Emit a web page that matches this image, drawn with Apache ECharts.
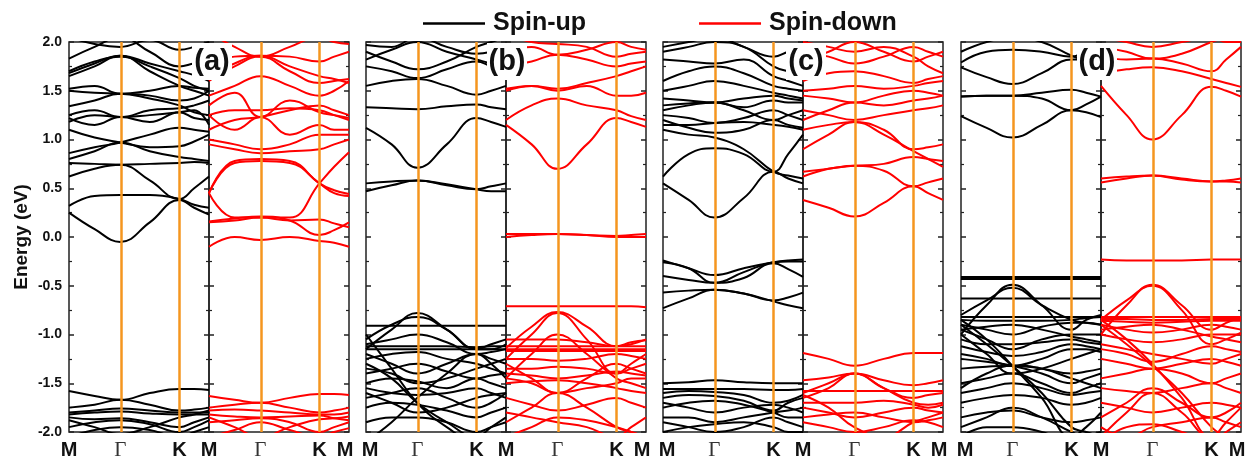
<!DOCTYPE html>
<html><head><meta charset="utf-8">
<script src="https://cdn.jsdelivr.net/npm/echarts@6/dist/echarts.min.js"></script>
<style>html,body{margin:0;padding:0;background:#fff}#c{width:1254px;height:467px}</style>
</head><body><div id="c"></div>
<script>
// k-path sample positions (fraction of M-Γ-K-M path length)
const kPath = [0, 0.183, 0.366, 0.577, 0.789, 0.894, 1.0];
const kTicks = [0, 0.366, 0.789, 1.0];
const kTickLabels = ['M', 'Γ', 'K', 'M'];
const highSymK = [0.366, 0.789];
const energyTicks = [-2, 2, 0.5];
const panelLabels = ['(a)', '(b)', '(c)', '(d)'];
const seriesNames = ['Spin-up', 'Spin-down'];

// band energies (eV) at kPath points
const aUp = [
  [0.25, 0.08, -0.05, 0.15, 0.38, 0.30, 0.23],
  [0.32, 0.42, 0.43, 0.43, 0.39, 0.33, 0.30],
  [0.62, 0.70, 0.74, 0.58, 0.39, 0.50, 0.62],
  [0.76, 0.75, 0.74, 0.75, 0.76, 0.77, 0.76],
  [0.80, 0.88, 0.97, 0.88, 0.82, 0.80, 0.78],
  [1.10, 1.02, 0.97, 0.92, 0.93, 0.98, 1.05],
  [0.86, 0.92, 0.97, 1.05, 1.12, 1.10, 1.08],
  [1.22, 1.15, 1.23, 1.18, 1.28, 1.22, 1.20],
  [1.25, 1.30, 1.23, 1.25, 1.28, 1.30, 1.15],
  [1.18, 1.25, 1.23, 1.30, 1.32, 1.35, 1.40],
  [1.34, 1.40, 1.47, 1.42, 1.35, 1.28, 1.25],
  [1.50, 1.48, 1.47, 1.45, 1.40, 1.42, 1.50],
  [1.52, 1.55, 1.47, 1.50, 1.55, 1.53, 1.52],
  [1.65, 1.75, 1.86, 1.70, 1.55, 1.50, 1.45],
  [1.68, 1.78, 1.86, 1.78, 1.70, 1.66, 1.60],
  [1.70, 1.80, 1.85, 1.75, 1.63, 1.55, 1.50],
  [1.83, 1.95, 2.05, 1.90, 1.75, 1.78, 1.80],
  [2.05, 1.98, 1.95, 2.02, 1.92, 1.95, 2.00],
  [-1.58, -1.63, -1.67, -1.60, -1.56, -1.56, -1.57],
  [-1.75, -1.72, -1.67, -1.72, -1.78, -1.77, -1.75],
  [-1.80, -1.78, -1.76, -1.78, -1.80, -1.80, -1.80],
  [-1.82, -1.80, -1.79, -1.81, -1.82, -1.82, -1.82],
  [-1.85, -1.87, -1.86, -1.90, -1.95, -1.90, -1.85],
  [-1.88, -1.95, -2.02, -1.95, -1.85, -1.82, -1.78],
  [-1.95, -1.90, -1.88, -1.92, -2.00, -1.95, -1.88],
  [-2.05, -1.98, -1.95, -1.98, -2.05, -2.00, -1.95]
];
const aDown = [
  [-0.10, 0.00, -0.03, 0.00, -0.04, -0.06, -0.10],
  [0.16, 0.19, 0.21, 0.17, 0.02, 0.07, 0.15],
  [0.15, 0.17, 0.20, 0.17, 0.18, 0.14, 0.10],
  [0.45, 0.78, 0.80, 0.78, 0.55, 0.48, 0.44],
  [0.45, 0.76, 0.78, 0.76, 0.55, 0.45, 0.42],
  [0.45, 0.20, 0.20, 0.20, 0.55, 0.72, 0.87],
  [0.95, 0.90, 0.86, 0.88, 0.90, 0.95, 1.00],
  [1.00, 0.95, 0.90, 0.95, 1.05, 1.05, 1.05],
  [1.25, 1.10, 1.23, 1.05, 1.15, 1.10, 1.10],
  [1.10, 1.20, 1.23, 1.30, 1.35, 1.30, 1.25],
  [1.35, 1.48, 1.23, 1.40, 1.28, 1.25, 1.22],
  [1.25, 1.30, 1.30, 1.32, 1.30, 1.25, 1.20],
  [1.45, 1.55, 1.65, 1.55, 1.45, 1.50, 1.60],
  [1.60, 1.75, 1.85, 1.70, 1.58, 1.60, 1.62],
  [1.65, 1.78, 1.86, 1.75, 1.65, 1.62, 1.58],
  [1.75, 1.85, 1.86, 1.85, 1.80, 1.85, 1.90],
  [2.10, 1.95, 1.85, 1.95, 2.05, 2.00, 1.98],
  [-1.63, -1.67, -1.70, -1.65, -1.61, -1.61, -1.62],
  [-1.75, -1.72, -1.70, -1.75, -1.80, -1.78, -1.75],
  [-1.78, -1.77, -1.78, -1.80, -1.82, -1.82, -1.80],
  [-1.82, -1.84, -1.85, -1.84, -1.83, -1.86, -1.88],
  [-1.85, -1.95, -2.05, -1.95, -1.87, -1.86, -1.84],
  [-1.90, -1.88, -1.86, -1.90, -2.00, -1.95, -1.90],
  [-2.05, -1.98, -1.90, -1.98, -2.05, -2.00, -1.96]
];
const bUp = [
  [0.47, 0.53, 0.58, 0.53, 0.49, 0.52, 0.55],
  [0.55, 0.57, 0.58, 0.54, 0.49, 0.47, 0.47],
  [1.12, 0.95, 0.71, 0.95, 1.22, 1.18, 1.13],
  [1.33, 1.32, 1.31, 1.34, 1.36, 1.33, 1.31],
  [1.55, 1.60, 1.62, 1.55, 1.46, 1.50, 1.55],
  [1.75, 1.70, 1.63, 1.72, 1.80, 1.75, 1.70],
  [1.82, 1.92, 2.00, 1.90, 1.82, 1.78, 1.75],
  [1.90, 1.80, 1.72, 1.80, 1.95, 2.00, 2.05],
  [1.97, 1.95, 2.05, 1.95, 1.88, 1.90, 1.95],
  [-1.15, -0.95, -0.78, -0.95, -1.15, -1.10, -1.05],
  [-0.91, -0.91, -0.91, -0.91, -0.91, -0.91, -0.91],
  [-1.05, -0.90, -0.82, -0.95, -1.15, -1.15, -1.10],
  [-1.12, -1.12, -1.12, -1.12, -1.13, -1.12, -1.12],
  [-1.15, -1.15, -1.15, -1.15, -1.15, -1.15, -1.15],
  [-1.20, -1.30, -1.40, -1.30, -1.20, -1.25, -1.30],
  [-1.25, -1.20, -1.18, -1.25, -1.30, -1.35, -1.40],
  [-1.35, -1.40, -1.50, -1.45, -1.35, -1.30, -1.25],
  [-1.50, -1.45, -1.48, -1.55, -1.45, -1.50, -1.55],
  [-1.55, -1.60, -1.62, -1.60, -1.55, -1.60, -1.65],
  [-1.65, -1.60, -1.55, -1.65, -1.75, -1.70, -1.60],
  [-1.75, -1.70, -1.72, -1.78, -1.85, -1.80, -1.75],
  [-1.00, -1.35, -1.70, -1.95, -2.10, -2.10, -2.10],
  [-2.10, -1.90, -1.65, -1.40, -1.20, -1.30, -1.45],
  [-1.90, -1.85, -1.85, -1.90, -2.00, -1.95, -1.90],
  [-1.30, -1.45, -1.70, -1.90, -2.05, -1.95, -1.85],
  [-1.10, -1.05, -1.00, -1.08, -1.20, -1.18, -1.15],
  [-1.40, -1.35, -1.30, -1.38, -1.45, -1.42, -1.40],
  [-1.60, -1.70, -1.80, -1.75, -1.65, -1.62, -1.60]
];
const bDown = [
  [0.00, 0.02, 0.03, 0.02, 0.00, 0.00, 0.00],
  [0.03, 0.03, 0.03, 0.02, 0.01, 0.02, 0.03],
  [1.15, 0.95, 0.70, 0.95, 1.22, 1.18, 1.13],
  [1.20, 1.35, 1.42, 1.35, 1.30, 1.24, 1.20],
  [1.52, 1.55, 1.52, 1.58, 1.65, 1.70, 1.75],
  [1.50, 1.55, 1.50, 1.55, 1.45, 1.45, 1.48],
  [1.75, 1.80, 1.87, 1.82, 1.75, 1.78, 1.80],
  [1.90, 1.95, 1.87, 1.92, 2.00, 1.95, 1.92],
  [2.10, 2.00, 1.98, 1.95, 1.85, 1.88, 1.90],
  [-0.71, -0.71, -0.71, -0.71, -0.71, -0.71, -0.72],
  [-1.14, -0.92, -0.77, -0.92, -1.12, -1.08, -1.06],
  [-1.25, -1.00, -0.78, -1.05, -1.40, -1.30, -1.20],
  [-1.12, -1.12, -1.12, -1.12, -1.12, -1.12, -1.12],
  [-1.15, -1.15, -1.15, -1.15, -1.15, -1.15, -1.15],
  [-1.17, -1.17, -1.17, -1.17, -1.17, -1.17, -1.17],
  [-1.45, -1.20, -1.00, -1.20, -1.45, -1.50, -1.55],
  [-1.30, -1.45, -1.60, -1.45, -1.30, -1.35, -1.40],
  [-1.90, -1.75, -1.60, -1.75, -1.95, -2.00, -2.05],
  [-1.45, -1.50, -1.60, -1.55, -1.50, -1.45, -1.45],
  [-1.50, -1.48, -1.47, -1.50, -1.55, -1.58, -1.60],
  [-1.35, -1.35, -1.33, -1.35, -1.40, -1.35, -1.30],
  [-1.65, -1.72, -1.78, -1.72, -1.65, -1.70, -1.75],
  [-1.80, -1.85, -1.90, -1.95, -2.05, -1.95, -1.85],
  [-2.05, -1.95, -1.85, -1.88, -1.95, -2.00, -2.05],
  [-1.25, -1.25, -1.27, -1.25, -1.20, -1.22, -1.25],
  [-1.05, -1.05, -1.05, -1.08, -1.12, -1.10, -1.05],
  [-1.40, -1.42, -1.45, -1.42, -1.38, -1.40, -1.42]
];
const cUp = [
  [0.55, 0.38, 0.20, 0.40, 0.67, 0.60, 0.55],
  [0.62, 0.85, 0.91, 0.85, 0.67, 0.85, 1.05],
  [1.10, 1.05, 1.02, 0.90, 0.67, 0.63, 0.60],
  [1.20, 1.12, 1.07, 1.10, 1.20, 1.15, 1.12],
  [1.15, 1.15, 1.17, 1.18, 1.15, 1.13, 1.10],
  [1.25, 1.22, 1.17, 1.22, 1.30, 1.25, 1.20],
  [1.30, 1.35, 1.38, 1.33, 1.40, 1.38, 1.38],
  [1.42, 1.40, 1.38, 1.42, 1.45, 1.42, 1.40],
  [1.35, 1.37, 1.38, 1.30, 1.20, 1.25, 1.30],
  [1.50, 1.55, 1.60, 1.55, 1.48, 1.45, 1.42],
  [1.60, 1.70, 1.75, 1.68, 1.55, 1.52, 1.50],
  [1.82, 1.80, 1.78, 1.82, 1.65, 1.60, 1.55],
  [1.95, 2.00, 2.05, 1.95, 1.85, 1.90, 1.95],
  [1.90, 1.95, 2.00, 1.95, 1.75, 1.70, 1.68],
  [-0.24, -0.32, -0.39, -0.32, -0.26, -0.24, -0.23],
  [-0.26, -0.32, -0.47, -0.36, -0.26, -0.25, -0.25],
  [-0.40, -0.44, -0.47, -0.42, -0.27, -0.33, -0.41],
  [-0.57, -0.55, -0.54, -0.58, -0.65, -0.62, -0.57],
  [-0.73, -0.63, -0.54, -0.58, -0.66, -0.70, -0.73],
  [-1.50, -1.49, -1.47, -1.49, -1.50, -1.50, -1.50],
  [-1.56, -1.56, -1.56, -1.56, -1.57, -1.57, -1.56],
  [-1.60, -1.58, -1.59, -1.62, -1.70, -1.68, -1.62],
  [-1.65, -1.62, -1.63, -1.68, -1.78, -1.70, -1.65],
  [-1.70, -1.75, -1.80, -1.75, -1.72, -1.75, -1.80],
  [-1.75, -1.70, -1.68, -1.72, -1.80, -1.85, -1.85],
  [-1.85, -1.85, -1.90, -1.85, -1.80, -1.78, -1.75],
  [-1.90, -1.95, -2.00, -1.95, -1.85, -1.90, -1.95],
  [-2.00, -1.95, -1.92, -1.90, -1.95, -2.00, -2.00]
];
const cDown = [
  [0.38, 0.30, 0.21, 0.35, 0.52, 0.45, 0.38],
  [0.67, 0.70, 0.73, 0.68, 0.52, 0.56, 0.60],
  [0.62, 0.70, 0.73, 0.75, 0.82, 0.80, 0.78],
  [0.90, 1.05, 1.18, 1.05, 0.88, 0.80, 0.72],
  [1.10, 1.15, 1.18, 1.10, 0.90, 0.92, 0.95],
  [1.30, 1.25, 1.20, 1.25, 1.30, 1.32, 1.35],
  [1.20, 1.30, 1.38, 1.35, 1.40, 1.42, 1.45],
  [1.45, 1.42, 1.38, 1.45, 1.50, 1.48, 1.45],
  [1.50, 1.52, 1.55, 1.52, 1.55, 1.58, 1.60],
  [1.60, 1.68, 1.70, 1.65, 1.58, 1.62, 1.65],
  [1.80, 1.90, 2.00, 1.90, 1.80, 1.85, 1.90],
  [1.90, 1.85, 1.78, 1.85, 1.95, 1.90, 1.85],
  [2.00, 1.95, 1.90, 1.95, 1.85, 1.75, 1.68],
  [-1.19, -1.25, -1.32, -1.25, -1.19, -1.19, -1.19],
  [-1.47, -1.44, -1.40, -1.47, -1.52, -1.50, -1.47],
  [-1.58, -1.58, -1.58, -1.58, -1.58, -1.58, -1.58],
  [-1.60, -1.50, -1.40, -1.55, -1.65, -1.62, -1.60],
  [-1.65, -1.55, -1.40, -1.55, -1.70, -1.72, -1.70],
  [-1.70, -1.70, -1.70, -1.68, -1.72, -1.75, -1.72],
  [-1.75, -1.80, -1.85, -1.80, -1.75, -1.78, -1.80],
  [-1.85, -1.82, -1.80, -1.85, -1.90, -1.88, -1.85],
  [-1.90, -1.95, -2.00, -1.95, -1.88, -1.90, -1.95],
  [-1.62, -1.75, -1.95, -2.05, -1.90, -1.85, -1.80]
];
const dUp = [
  [1.24, 1.12, 1.02, 1.15, 1.30, 1.28, 1.23],
  [1.44, 1.45, 1.45, 1.42, 1.30, 1.36, 1.44],
  [1.44, 1.45, 1.45, 1.48, 1.51, 1.48, 1.44],
  [1.74, 1.64, 1.57, 1.68, 1.82, 1.82, 1.82],
  [1.79, 1.90, 1.92, 1.90, 1.85, 1.90, 1.95],
  [1.90, 2.00, 2.05, 2.00, 1.86, 1.80, 1.75],
  [-0.41, -0.41, -0.41, -0.41, -0.41, -0.41, -0.41],
  [-0.43, -0.43, -0.43, -0.43, -0.43, -0.43, -0.43],
  [-1.00, -0.70, -0.49, -0.70, -0.95, -0.85, -0.80],
  [-0.63, -0.63, -0.63, -0.63, -0.63, -0.63, -0.63],
  [-0.80, -0.65, -0.52, -0.70, -0.85, -0.88, -0.90],
  [-0.82, -0.82, -0.82, -0.82, -0.82, -0.82, -0.82],
  [-0.85, -0.86, -0.86, -0.86, -0.85, -0.83, -0.82],
  [-0.90, -0.95, -1.00, -0.92, -0.88, -0.88, -0.90],
  [-0.95, -1.05, -1.15, -1.05, -1.00, -1.00, -1.00],
  [-1.05, -1.10, -1.10, -1.08, -1.05, -1.08, -1.10],
  [-1.20, -1.25, -1.32, -1.25, -1.15, -1.15, -1.18],
  [-1.35, -1.33, -1.32, -1.35, -1.40, -1.38, -1.35],
  [-0.90, -1.10, -1.32, -1.60, -1.95, -2.00, -2.05],
  [-0.85, -1.05, -1.32, -1.65, -2.05, -1.95, -1.80],
  [-1.50, -1.45, -1.40, -1.50, -1.60, -1.55, -1.50],
  [-1.70, -1.65, -1.62, -1.65, -1.72, -1.70, -1.65],
  [-1.85, -1.80, -1.78, -1.85, -1.90, -1.88, -1.85],
  [-2.05, -1.95, -1.95, -2.00, -2.10, -2.05, -2.00],
  [-1.55, -1.40, -1.32, -1.35, -1.45, -1.50, -1.55],
  [-0.95, -0.92, -0.90, -0.95, -1.02, -1.05, -1.08],
  [-1.12, -1.18, -1.22, -1.18, -1.10, -1.12, -1.15],
  [-1.25, -1.28, -1.32, -1.40, -1.50, -1.45, -1.40],
  [-1.60, -1.55, -1.50, -1.55, -1.62, -1.60, -1.58],
  [-1.95, -1.85, -1.75, -1.85, -2.00, -2.05, -2.05],
  [-1.00, -1.20, -1.40, -1.35, -1.25, -1.20, -1.15]
];
const dDown = [
  [0.56, 0.60, 0.63, 0.60, 0.57, 0.57, 0.56],
  [0.60, 0.62, 0.63, 0.59, 0.57, 0.58, 0.60],
  [1.55, 1.25, 1.00, 1.25, 1.54, 1.50, 1.44],
  [1.68, 1.72, 1.74, 1.70, 1.62, 1.58, 1.54],
  [1.85, 1.82, 1.83, 1.78, 1.70, 1.82, 1.95],
  [1.95, 1.90, 1.83, 1.88, 2.00, 2.05, 2.10],
  [2.05, 2.00, 1.95, 2.00, 2.05, 2.00, 2.00],
  [-0.23, -0.24, -0.24, -0.24, -0.23, -0.23, -0.23],
  [-1.00, -0.70, -0.49, -0.70, -0.95, -0.88, -0.82],
  [-0.85, -0.65, -0.50, -0.75, -1.10, -1.05, -0.98],
  [-0.82, -0.82, -0.82, -0.82, -0.82, -0.82, -0.82],
  [-0.84, -0.84, -0.85, -0.85, -0.84, -0.84, -0.84],
  [-0.86, -0.87, -0.88, -0.87, -0.86, -0.86, -0.86],
  [-0.90, -0.95, -0.98, -0.95, -0.90, -0.92, -0.95],
  [-1.00, -1.05, -1.08, -1.05, -1.00, -1.00, -1.00],
  [-1.15, -1.20, -1.28, -1.20, -1.12, -1.15, -1.18],
  [-0.85, -1.05, -1.30, -1.65, -2.05, -1.90, -1.75],
  [-0.90, -1.10, -1.32, -1.60, -1.95, -2.05, -2.10],
  [-1.45, -1.40, -1.35, -1.40, -1.50, -1.45, -1.40],
  [-1.55, -1.58, -1.60, -1.55, -1.50, -1.55, -1.60],
  [-1.70, -1.75, -1.80, -1.75, -1.70, -1.72, -1.75],
  [-1.95, -2.05, -1.95, -1.90, -1.85, -1.90, -1.95],
  [-2.10, -1.95, -1.92, -2.00, -2.10, -2.00, -1.90],
  [-0.95, -0.92, -0.90, -0.95, -1.02, -1.05, -1.08],
  [-1.10, -1.15, -1.20, -1.25, -1.30, -1.25, -1.20],
  [-1.25, -1.30, -1.35, -1.30, -1.25, -1.28, -1.32],
  [-1.85, -1.70, -1.55, -1.70, -1.85, -1.80, -1.70],
  [-2.05, -1.80, -1.60, -1.80, -2.05, -2.05, -2.05]
];

const panels = [aUp, aDown, bUp, bDown, cUp, cDown, dUp, dDown];
const colors = ['#000000', '#ff0000'];
const orange = '#f5961f';
const gridLeft = [69, 209, 366, 506, 663, 803, 961, 1101];
const panelW = 140, gridTop = 42, gridH = 390;

const grids = [], xAxes = [], yAxes = [], series = [];
const mStyle = {fontFamily: 'Liberation Sans, Arial', fontWeight: 'bold', fontSize: 20, color: '#111'};
panels.forEach((bands, p) => {
  const spin = p % 2;
  grids.push({left: gridLeft[p], top: gridTop, width: panelW, height: gridH,
    show: true, borderColor: '#222', borderWidth: 1.5, backgroundColor: 'transparent'});
  const labVals = spin ? kTicks.slice(1) : kTicks;
  xAxes.push({type: 'value', gridIndex: p, min: 0, max: 1,
    axisLine: {show: false}, axisTick: {show: false}, splitLine: {show: false},
    axisLabel: {customValues: labVals, margin: 8, color: '#111',
      formatter: v => {
        const i = kTicks.indexOf(v);
        const t = kTickLabels[i];
        if (t === 'Γ') return '{g|Γ}';
        if (i === 0 && p > 0) return '{ml|' + t + '}';
        if (i === kTicks.length - 1 && spin) return '{mr|' + t + '}';
        return '{m|' + t + '}';
      },
      rich: {
        m: mStyle,
        ml: Object.assign({}, mStyle, {padding: [0, 0, 0, 8]}),
        mr: Object.assign({}, mStyle, {padding: [0, 8, 0, 0]}),
        g: {fontFamily: 'Liberation Serif, Times New Roman', fontSize: 21, color: '#333'}
      }}
  });
  ['left', 'right'].forEach(pos => {
    const isName = p === 0 && pos === 'left';
    yAxes.push({type: 'value', gridIndex: p, position: pos,
      min: energyTicks[0], max: energyTicks[1], interval: energyTicks[2],
      axisLine: {show: false},
      axisTick: {show: true, inside: true, length: 5, lineStyle: {color: '#222', width: 1.5}},
      minorTick: {show: true, splitNumber: 2, length: 3, lineStyle: {color: '#222', width: 1.2}},
      splitLine: {show: false},
      axisLabel: {show: isName, fontFamily: 'Liberation Sans, Arial', fontWeight: 'bold', fontSize: 14,
        color: '#111', margin: 7, formatter: v => v.toFixed(1)},
      name: isName ? 'Energy (eV)' : '', nameLocation: 'middle', nameGap: 38, nameRotate: 90,
      nameTextStyle: {fontFamily: 'Liberation Sans, Arial', fontWeight: 'bold', fontSize: 19, color: '#111'}
    });
  });
  bands.forEach(b => {
    series.push({type: 'line', name: seriesNames[spin], xAxisIndex: p, yAxisIndex: 2 * p,
      data: kPath.map((k, i) => [k, b[i]]), smooth: 0.45, showSymbol: false, silent: true,
      lineStyle: {color: colors[spin], width: 2}, itemStyle: {color: colors[spin]}, z: 2, clip: true});
  });
  series.push({type: 'line', xAxisIndex: p, yAxisIndex: 2 * p, data: [], silent: true, z: 5,
    markLine: {silent: true, symbol: ['none', 'none'], label: {show: false}, animation: false,
      lineStyle: {color: orange, width: 2.5, type: 'solid'},
      data: highSymK.map(k => ({xAxis: k}))}});
});

const labelCenters = [212, 507, 806, 1097];
const graphics = [];
panelLabels.forEach((t, i) => {
  graphics.push({type: 'rect', z: 100, shape: {x: labelCenters[i] - 20, y: 43, width: 40, height: 37}, style: {fill: '#fff'}});
  graphics.push({type: 'text', z: 101, x: labelCenters[i], y: 62,
    style: {text: t, font: 'bold 29px "Liberation Sans", Arial', fill: '#111', align: 'center', verticalAlign: 'middle'}});
});

const chart = echarts.init(document.getElementById('c'), null, {renderer: 'canvas'});
chart.setOption({
  animation: false,
  backgroundColor: '#fff',
  legend: {data: seriesNames, left: 418, top: 6, icon: 'rect', itemWidth: 62, itemHeight: 2.5,
    itemGap: 113, selectedMode: false,
    textStyle: {fontFamily: 'Liberation Sans, Arial', fontWeight: 'bold', fontSize: 25, color: '#111', padding: [0, 0, 0, 3]}},
  grid: grids, xAxis: xAxes, yAxis: yAxes, series: series, graphic: graphics
});
</script></body></html>
